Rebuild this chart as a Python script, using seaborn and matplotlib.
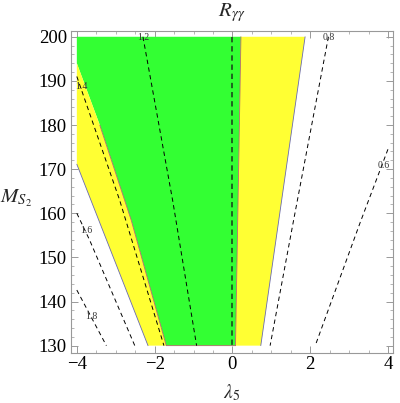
import numpy as np
import pandas as pd
import matplotlib
matplotlib.use("Agg")
import matplotlib.pyplot as plt
from matplotlib.ticker import MultipleLocator
import seaborn as sns

# Allowed regions (lambda5, M_S2)
green_lam = [-4.0, 0.22, 0.08, -1.70, -2.60, -3.41, -4.0]
green_m = [200, 200, 130, 130, 158.4, 180, 194]
yellow_left_lam = [-4.0, -3.41, -2.60, -1.70, -2.17, -4.0]
yellow_left_m = [194, 180, 158.4, 130, 130, 171.1]
yellow_right_lam = [0.22, 1.87, 0.73, 0.08]
yellow_right_m = [200, 200, 130, 130]

# Contours of R_gamma gamma
contours = {
    "1.8": ([-4.0, -3.24], [142.6, 130]),
    "1.6": ([-4.0, -3.67, -2.51], [160, 153.9, 130]),
    "1.4": ([-4.0, -2.90, -1.76], [191, 163, 130]),
    "1.2": ([-2.30, -1.53, -0.92], [200, 162.6, 130]),
    "1.0": ([0.0, 0.0], [200, 130]),
    "0.8": ([2.47, 1.55, 0.97], [200, 157.3, 130]),
    "0.6": ([4.0, 3.29, 2.13], [174.5, 158, 130]),
}
# where the contour labels sit
label_lam = {"1.8": -3.63, "1.6": -3.76, "1.4": -3.89, "1.2": -2.30, "0.8": 2.47, "0.6": 3.89}
label_m = {"1.8": 136.5, "1.6": 156.2, "1.4": 188.7, "1.2": 199.8, "0.8": 199.8, "0.6": 170.9}

sns.set_style("ticks")
plt.rcParams["font.family"] = ["Liberation Serif", "DejaVu Serif"]
plt.rcParams["mathtext.fontset"] = "stix"

fig = plt.figure(figsize=(4.0, 4.03), dpi=100)
ax = fig.add_axes([0.1775, 0.1248, 0.805, 0.7982])

# regions
ax.fill(green_lam, green_m, color="#33ff33", lw=0)
ax.fill(yellow_left_lam, yellow_left_m, color="#ffff33", lw=0)
ax.fill(yellow_right_lam, yellow_right_m, color="#ffff33", lw=0)

# region boundaries
ax.plot(green_lam[2:6], green_m[2:6], color="#b06a6a", lw=0.6)
ax.plot(green_lam[1:3], green_m[1:3], color="#b06a6a", lw=0.6)
ax.plot([yellow_left_lam[-1], yellow_left_lam[-2]], [yellow_left_m[-1], yellow_left_m[-2]],
        color="#6a6ab0", lw=0.6)
ax.plot(yellow_right_lam[1:3], yellow_right_m[1:3], color="#6a6ab0", lw=0.6)

# contour lines
for lev, (xs, ys) in contours.items():
    df = pd.DataFrame({"lam": xs, "m": ys})
    lw = 1.1 if lev == "1.0" else 0.7
    col = "#1a3a1a" if lev == "1.0" else "black"
    sns.lineplot(data=df, x="lam", y="m", sort=False, estimator=None, color=col,
                 lw=lw, ax=ax, dashes=False)
    ax.lines[-1].set_dashes([4.5, 3.5] if lev != "1.0" else [3.5, 2.5])
    if lev in label_lam:
        ax.text(label_lam[lev], label_m[lev], lev, fontsize=7, color="#333333",
                ha="center", va="center")

ax.set_xlim(-4.15, 4.13)
ax.set_ylim(128.4, 201.3)
ax.xaxis.set_major_locator(MultipleLocator(2))
ax.xaxis.set_minor_locator(MultipleLocator(0.5))
ax.yaxis.set_major_locator(MultipleLocator(10))
ax.yaxis.set_minor_locator(MultipleLocator(2))
ax.tick_params(which="both", direction="in", top=True, right=True, color="#999999",
               labelsize=13.5, labelcolor="black")
ax.tick_params(which="major", length=5, width=0.7)
ax.tick_params(which="minor", length=2.5, width=0.5)
ax.tick_params(axis="x", pad=2.5)
ax.tick_params(axis="y", pad=3)
for sp in ax.spines.values():
    sp.set_color("#999999")
    sp.set_linewidth(0.8)

ax.set_xlabel(r"$\lambda_5$", fontsize=14)
ax.xaxis.set_label_coords(0.5, -0.092)
ax.set_ylabel(r"$M_{S_2}$", fontsize=15, rotation=0, va="center", ha="center")
ax.yaxis.set_label_coords(-0.172, 0.48)
ax.text(0.5, 1.058, r"$R_{\gamma\gamma}$", fontsize=15, ha="center", va="center",
        transform=ax.transAxes)

fig.savefig("out.png", dpi=100)
